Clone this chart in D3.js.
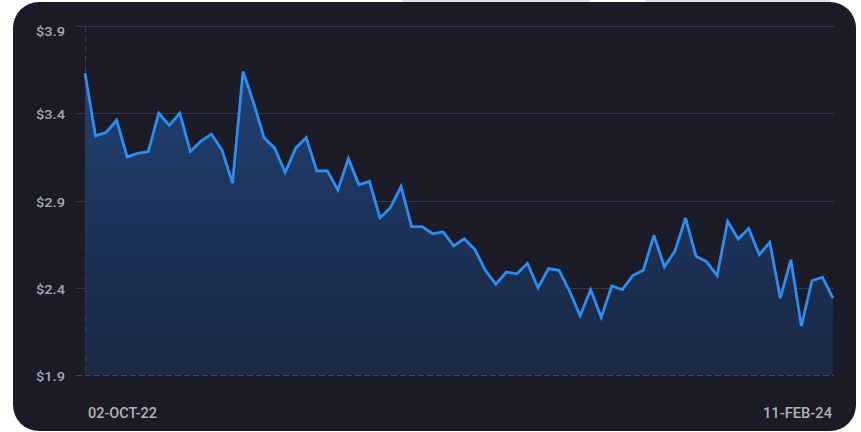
<!DOCTYPE html>
<html>
<head>
<meta charset="utf-8">
<script src="https://cdn.jsdelivr.net/npm/d3@7/dist/d3.min.js"></script>
<style>
  html, body { margin: 0; padding: 0; background: #ffffff; }
  svg { display: block; }
  text { font-family: Roboto, "Noto Sans", sans-serif; }
</style>
</head>
<body>
<svg id="chart" width="861" height="432"></svg>
<script>
// Weekly closing price, 02-Oct-2022 through 11-Feb-2024
const startDate = "2022-10-02";
const endDate = "2024-02-11";
const prices = [
  3.63, 3.27, 3.29, 3.36, 3.15, 3.17, 3.18, 3.40, 3.33, 3.40,
  3.18, 3.24, 3.28, 3.19, 3.00, 3.64, 3.46, 3.26, 3.20, 3.06,
  3.20, 3.26, 3.07, 3.07, 2.96, 3.14, 2.99, 3.01, 2.80, 2.86,
  2.98, 2.75, 2.75, 2.71, 2.72, 2.64, 2.68, 2.62, 2.50, 2.42,
  2.49, 2.48, 2.54, 2.40, 2.51, 2.50, 2.38, 2.24, 2.39, 2.23,
  2.41, 2.39, 2.47, 2.50, 2.70, 2.52, 2.61, 2.80, 2.58, 2.55,
  2.47, 2.78, 2.68, 2.74, 2.59, 2.66, 2.34, 2.56, 2.18, 2.44,
  2.46, 2.34
];
const yTicks = [1.9, 2.4, 2.9, 3.4, 3.9];
const yTickLabels = ["$1.9", "$2.4", "$2.9", "$3.4", "$3.9"];
const xTickLabels = ["02-OCT-22", "11-FEB-24"];

const parse = d3.timeParse("%Y-%m-%d");
const dates = d3.timeWeek.range(parse(startDate), d3.timeDay.offset(parse(endDate), 1));
const data = prices.map((p, i) => ({ date: dates[i], value: p }));

const svg = d3.select("#chart");

// card
svg.append("rect").attr("x", 402).attr("y", -8).attr("width", 188).attr("height", 12)
  .attr("rx", 5).attr("fill", "#e2e3e6");
svg.append("rect").attr("x", 645).attr("y", -8).attr("width", 186).attr("height", 12)
  .attr("rx", 5).attr("fill", "#e2e3e6");
svg.append("rect")
  .attr("x", 13).attr("y", 2).attr("width", 843).attr("height", 429)
  .attr("rx", 26).attr("fill", "#1b1c28");

const x = d3.scaleTime()
  .domain([dates[0], dates[dates.length - 1]])
  .range([85, 833]);
const y = d3.scaleLinear()
  .domain([1.9, 3.9])
  .range([375, 26]);

const defs = svg.append("defs");
const grad = defs.append("linearGradient")
  .attr("id", "areaFill")
  .attr("gradientUnits", "userSpaceOnUse")
  .attr("x1", 0).attr("y1", y(3.7)).attr("x2", 0).attr("y2", y(1.9));
grad.append("stop").attr("offset", "0%").attr("stop-color", "#214377");
grad.append("stop").attr("offset", "55%").attr("stop-color", "#1c3259");
grad.append("stop").attr("offset", "100%").attr("stop-color", "#1a2844");

// horizontal grid
const grid = svg.append("g");
grid.selectAll("line.grid")
  .data(yTicks.filter(t => t !== 1.9))
  .join("line")
  .attr("class", "grid")
  .attr("x1", 76).attr("x2", 834)
  .attr("y1", d => Math.round(y(d)) + 0.5).attr("y2", d => Math.round(y(d)) + 0.5)
  .attr("stroke", "#363948").attr("stroke-width", 1);

// area
svg.append("path")
  .datum(data)
  .attr("fill", "url(#areaFill)")
  .attr("d", d3.area().x(d => x(d.date)).y0(y(1.9)).y1(d => y(d.value)));

// vertical dashed axis line
svg.append("line")
  .attr("x1", 85.5).attr("x2", 85.5).attr("y1", y(3.9)).attr("y2", y(1.9))
  .attr("stroke", "#3a3d4e").attr("stroke-width", 1).attr("stroke-dasharray", "6,4");

// baseline dashed
svg.append("line")
  .attr("x1", 76).attr("x2", 834)
  .attr("y1", Math.round(y(1.9)) + 0.5).attr("y2", Math.round(y(1.9)) + 0.5)
  .attr("stroke", "#474a5a").attr("stroke-width", 1).attr("stroke-dasharray", "6,3");

// price line
svg.append("path")
  .datum(data)
  .attr("fill", "none")
  .attr("stroke", "#2d8df0")
  .attr("stroke-width", 2.8)
  .attr("stroke-linejoin", "miter")
  .attr("stroke-miterlimit", 3)
  .attr("d", d3.line().x(d => x(d.date)).y(d => y(d.value)));

// y labels
svg.append("g").selectAll("text")
  .data(yTicks)
  .join("text")
  .attr("x", 36)
  .attr("y", d => Math.max(y(d) + 1.5, 31))
  .attr("dy", "0.35em")
  .attr("fill", "#a7a9b0")
  .attr("font-size", 13.5)
  .attr("font-weight", 500)
  .attr("textLength", 29)
  .attr("lengthAdjust", "spacingAndGlyphs")
  .text((d, i) => yTickLabels[i]);

// x labels
const xl = svg.append("g");
xl.append("text")
  .attr("x", x(dates[0]) + 3).attr("y", 413).attr("dy", "0.35em")
  .attr("fill", "#b1b3b9").attr("font-size", 14.5).attr("font-weight", 500)
  .attr("textLength", 69).attr("lengthAdjust", "spacingAndGlyphs")
  .text(xTickLabels[0]);
xl.append("text")
  .attr("x", x(dates[dates.length - 1]) - 1).attr("y", 413).attr("dy", "0.35em")
  .attr("text-anchor", "end")
  .attr("fill", "#b1b3b9").attr("font-size", 14.5).attr("font-weight", 500)
  .attr("textLength", 69).attr("lengthAdjust", "spacingAndGlyphs")
  .text(xTickLabels[1]);
</script>
</body>
</html>
